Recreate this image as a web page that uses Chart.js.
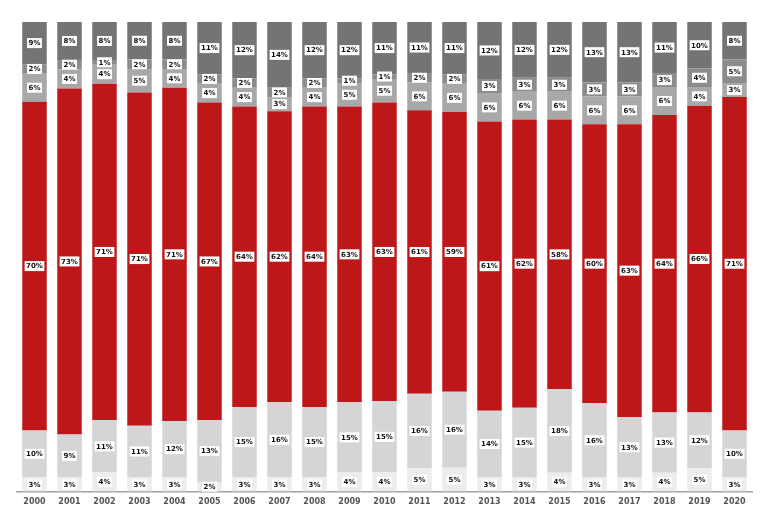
<!DOCTYPE html>
<html>
<head>
<meta charset="utf-8">
<script src="https://cdn.jsdelivr.net/npm/chart.js@4"></script>
<style>
  html, body { margin: 0; padding: 0; background: #fff; }
  #wrap { width: 768px; height: 527px; position: relative; }
</style>
</head>
<body>
<div id="wrap"><canvas id="share_chart"></canvas></div>
<script>
const years = ["2000","2001","2002","2003","2004","2005","2006","2007","2008","2009","2010",
               "2011","2012","2013","2014","2015","2016","2017","2018","2019","2020"]

// segments, bottom to top
const seg1 = [3, 3, 4, 3, 3, 2, 3, 3, 3, 4, 4, 5, 5, 3, 3, 4, 3, 3, 4, 5, 3]
const seg2 = [10, 9, 11, 11, 12, 13, 15, 16, 15, 15, 15, 16, 16, 14, 15, 18, 16, 13, 13, 12, 10]
const seg3 = [70, 73, 71, 71, 71, 67, 64, 62, 64, 63, 63, 61, 59, 61, 62, 58, 60, 63, 64, 66, 71]
const seg4 = [6, 4, 4, 5, 4, 4, 4, 3, 4, 5, 5, 6, 6, 6, 6, 6, 6, 6, 6, 4, 3]
const seg5 = [2, 2, 1, 2, 2, 2, 2, 2, 2, 1, 1, 2, 2, 3, 3, 3, 3, 3, 3, 4, 5]
const seg6 = [9, 8, 8, 8, 8, 11, 12, 14, 12, 12, 11, 11, 11, 12, 12, 12, 13, 13, 11, 10, 8]

const series = [seg1, seg2, seg3, seg4, seg5, seg6]
const colors = ['#ededed', '#d5d5d5', '#be171a', '#a8a8a8', '#8c8c8c', '#747474']

// rounded shares don't always add to 100, so scale each bar to fill the full height
const totals = years.map((y, i) => series.reduce((s, arr) => s + arr[i], 0))

const datasets = series.map((arr, k) => ({
    label: 'seg' + (k + 1),
    data: arr.map((v, i) => v / totals[i] * 100),
    raw: arr,
    backgroundColor: colors[k],
    borderWidth: 0,
    barPercentage: 0.7,
    categoryPercentage: 1
}))

/**
 * small white tags with the percent in the middle of each segment
 */
const tagPlugin = {
    id: 'tags',
    afterDatasetsDraw(chart) {
        const ctx = chart.ctx
        ctx.save()
        ctx.font = 'bold 7px "DejaVu Sans", sans-serif'
        ctx.textAlign = 'center'
        ctx.textBaseline = 'middle'
        chart.data.datasets.forEach((ds, di) => {
            chart.getDatasetMeta(di).data.forEach((bar, i) => {
                const txt = ds.raw[i] + '%'
                const cy = (bar.y + bar.base) / 2
                const w = ctx.measureText(txt).width + 3
                ctx.fillStyle = '#fff'
                ctx.fillRect(bar.x - w / 2, cy - 5, w, 10)
                ctx.fillStyle = '#111'
                ctx.fillText(txt, bar.x, cy + 0.5)
            })
        })
        ctx.restore()
    }
}

const shareChart = new Chart(document.getElementById('share_chart').getContext('2d'), {
    type: 'bar',
    data: {
        labels: years,
        datasets: datasets
    },
    options: {
        responsive: true,
        maintainAspectRatio: false,
        animation: false,
        layout: {
            padding: { left: 17, right: 16, top: 22, bottom: 14 }
        },
        plugins: {
            legend: { display: false },
            tooltip: { enabled: false }
        },
        scales: {
            x: {
                stacked: true,
                grid: { display: false, drawTicks: false },
                border: { display: true, color: '#a0a0a0', width: 1.5 },
                ticks: {
                    color: '#555',
                    padding: 6,
                    font: { family: '"DejaVu Sans", sans-serif', size: 8, weight: 'bold' }
                }
            },
            y: {
                stacked: true,
                display: false,
                min: 0,
                max: 100
            }
        }
    },
    plugins: [tagPlugin]
})
</script>
</body>
</html>
